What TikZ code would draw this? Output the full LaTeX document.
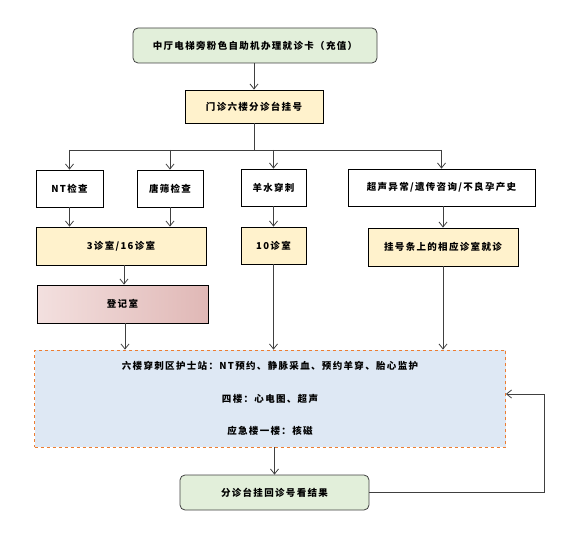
\documentclass[tikz,border=0pt]{standalone}
\usepackage{fontspec}
\newfontfamily\cjk[LetterSpace=14]{Noto Sans CJK SC}
\usetikzlibrary{arrows.meta}
\definecolor{gfill}{HTML}{E2EFDA}
\definecolor{yfill}{HTML}{FFF2CC}
\definecolor{bfill}{HTML}{DEE8F4}
\definecolor{odash}{HTML}{ED7D31}
\definecolor{pinkL}{HTML}{F3E0DF}
\definecolor{pinkR}{HTML}{E0B8B6}
\definecolor{edge}{HTML}{404040}
\tikzset{
  box/.style={draw=black, line width=0.8pt, minimum height=37pt, inner sep=2pt, font=\cjk\bfseries\fontsize{9.5}{12}\selectfont},
  whitebox/.style={box, fill=white},
  ybox/.style={box, fill=yfill},
  gbox/.style={box, fill=gfill, rounded corners=5pt, draw=edge},
  conn/.style={draw=edge, line width=0.8pt, -{Straight Barb[length=5pt,width=8pt]}},
  plain/.style={draw=edge, line width=0.8pt},
}
\begin{document}
\begin{tikzpicture}[x=1pt,y=-1pt]
\useasboundingbox (0,0) rectangle (572,534);
\node[gbox, minimum width=244pt, minimum height=35pt] (top) at (255,45.5) {中厅电梯旁粉色自助机办理就诊卡（充值）};
\node[ybox, minimum width=138pt, minimum height=33pt] (gh) at (254,106.5) {门诊六楼分诊台挂号};
\node[whitebox, minimum width=67pt] (nt) at (69.5,188.5) {NT检查};
\node[whitebox, minimum width=66pt] (ts) at (170,188.5) {唐筛检查};
\node[whitebox, minimum width=65pt] (ys) at (273.5,187.5) {羊水穿刺};
\node[whitebox, minimum width=187pt] (cs) at (441.5,187.5) {超声异常/遗传咨询/不良孕产史};
\node[ybox, minimum width=170pt, minimum height=38pt] (r3) at (121,246) {3诊室/16诊室};
\node[ybox, minimum width=65pt] (r10) at (273.5,245.5) {10诊室};
\node[ybox, minimum width=150pt, minimum height=38pt] (gt) at (443,247) {挂号条上的相应诊室就诊};
\node[box, minimum width=171pt, minimum height=38pt, left color=pinkL, right color=pinkR] (dj) at (122.5,304) {登记室};
\node[draw=odash, dashed, line width=0.8pt, fill=bfill, minimum width=471pt, minimum height=97pt, inner sep=0pt,
      align=center, font=\cjk\bfseries\fontsize{9.5}{32.5}\selectfont] (big) at (270,398.5)
      {六楼穿刺区护士站：NT预约、静脉采血、预约羊穿、胎心监护\\四楼：心电图、超声\\应急楼一楼：核磁};
\node[gbox, minimum width=189pt, minimum height=35pt] (res) at (274.5,492.5) {分诊台挂回诊号看结果};
\coordinate (split) at (254,150);
\draw[conn] (top.south -| gh.north) -- (gh.north);
\draw[plain] (gh.south) -- (split);
\draw[plain] (split -| nt.north) -- (split -| cs.north);
\draw[conn] (split -| nt.north) -- (nt.north);
\draw[conn] (split -| ts.north) -- (ts.north);
\draw[conn] (split -| ys.north) -- (ys.north);
\draw[conn] (split -| cs.north) -- (cs.north);
\draw[conn] (nt.south) -- (nt.south |- r3.north);
\draw[conn] (ts.south) -- (ts.south |- r3.north);
\draw[conn] (ys.south) -- (r10.north);
\draw[conn] (cs.south -| gt.north) -- (gt.north);
\draw[conn] ([xshift=3pt]r3.south) -- ([xshift=3pt]r3.south |- dj.north);
\draw[conn] ([xshift=2.5pt]dj.south) -- ([xshift=2.5pt]dj.south |- big.north);
\draw[conn] (r10.south) -- (r10.south |- big.north);
\draw[conn] (gt.south) -- (gt.south |- big.north);
\draw[conn] (big.south -| res.north) -- (res.north);
\coordinate (loopR) at (544,394);
\draw[conn] (res.east) -| (loopR) -- (big.east |- loopR);
\end{tikzpicture}
\end{document}
